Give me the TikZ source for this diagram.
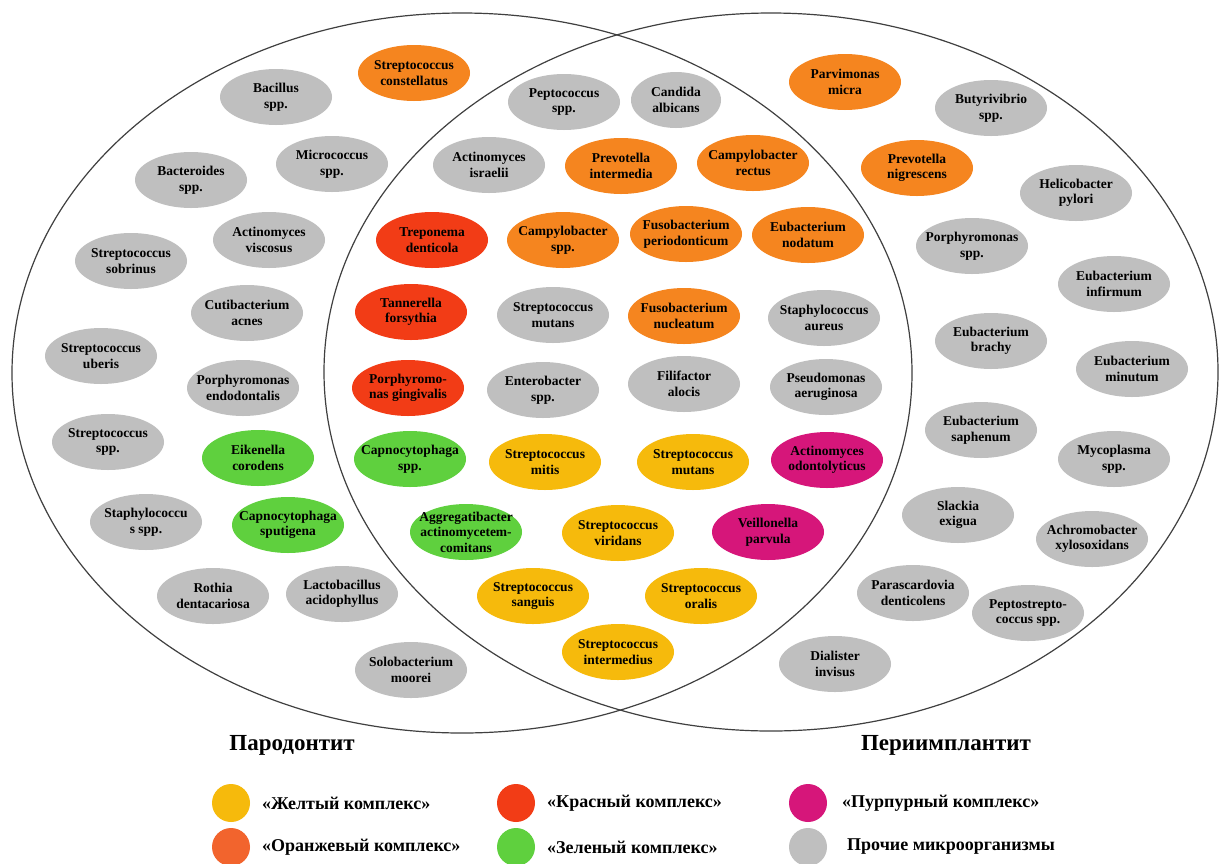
\documentclass[tikz,border=0pt]{standalone}
\usepackage{fontspec}
\setmainfont{Liberation Serif}
\usetikzlibrary{shapes.geometric}
\definecolor{cgray}{RGB}{191,191,191}
\definecolor{corange}{RGB}{245,133,31}
\definecolor{cred}{RGB}{242,60,22}
\definecolor{cgreen}{RGB}{95,208,62}
\definecolor{cyellow}{RGB}{246,186,12}
\definecolor{cpurple}{RGB}{214,22,122}
\definecolor{corleg}{RGB}{242,100,45}
\tikzset{
  bug/.style={ellipse, minimum width=112pt, minimum height=56pt, inner xsep=-10pt, inner ysep=-14pt,
    align=center, font=\bfseries\fontsize{13.5}{15.5}\selectfont, text=black},
  gr/.style={bug, fill=cgray},
  orn/.style={bug, fill=corange},
  rd/.style={bug, fill=cred},
  grn/.style={bug, fill=cgreen},
  yel/.style={bug, fill=cyellow},
  pur/.style={bug, fill=cpurple},
  venn/.style={draw=black!75, line width=1.2pt},
  dot/.style={circle, minimum size=38pt, inner sep=0pt},
  legtext/.style={anchor=west, inner sep=0pt, font=\bfseries\fontsize{18}{21}\selectfont},
  title/.style={inner sep=0pt, font=\bfseries\fontsize{23}{27}\selectfont}
}
\begin{document}
\begin{tikzpicture}[x=1pt,y=-1pt]
\useasboundingbox (0,0) rectangle (1220,863);
\fill[white] (0,0) rectangle (1220,863);
% Venn ellipses
\draw[venn] (462,373) ellipse [x radius=450pt, y radius=360pt];
\draw[venn] (771,372) ellipse [x radius=447pt, y radius=359pt];
% left only
\node[orn] (constellatus) at (414,73) {Streptococcus\\constellatus};
\node[gr] (bacillus) at (276,97) {Bacillus\\spp.};
\node[gr] (micrococcus) at (332,164) {Micrococcus\\spp.};
\node[gr] (bacteroides) at (191,180) {Bacteroides\\spp.};
\node[gr] (actvisc) at (269,240) {Actinomyces\\viscosus};
\node[gr] (sobrinus) at (131,261) {Streptococcus\\sobrinus};
\node[gr] (cuti) at (247,313) {Cutibacterium\\acnes};
\node[gr] (uberis) at (101,356) {Streptococcus\\uberis};
\node[gr] (porendo) at (243,388) {Porphyromonas\\endodontalis};
\node[gr] (strspp) at (108,442) {Streptococcus\\spp.};
\node[grn] (eikenella) at (258,458) {Eikenella\\corodens};
\node[gr] (staphspp) at (146,522) {Staphylococcu\\s spp.};
\node[grn] (capspu) at (288,525) {Capnocytophaga\\sputigena};
\node[gr] (rothia) at (213,596) {Rothia\\dentacariosa};
\node[gr] (lacto) at (342,594) {Lactobacillus\\acidophyllus};
\node[gr] (solo) at (411,670) {Solobacterium\\moorei};
% intersection
\node[gr] (pepto) at (564,102) {Peptococcus\\spp.};
\node[gr, minimum width=90pt] (candida) at (676,100) {Candida\\albicans};
\node[gr] (actisr) at (489,165) {Actinomyces\\israelii};
\node[orn] (prevint) at (621,166) {Prevotella\\intermedia};
\node[orn] (camprec) at (753,163) {Campylobacter\\rectus};
\node[rd] (trep) at (432,240) {Treponema\\denticola};
\node[orn] (campspp) at (563,240) {Campylobacter\\spp.};
\node[orn] (fusoper) at (686,234) {Fusobacterium\\periodonticum};
\node[orn] (eubnod) at (808,235) {Eubacterium\\nodatum};
\node[rd] (tann) at (411,312) {Tannerella\\forsythia};
\node[gr] (strmutg) at (553,315) {Streptococcus\\mutans};
\node[orn] (fusonuc) at (684,316) {Fusobacterium\\nucleatum};
\node[gr] (staphaur) at (824,318) {Staphylococcus\\aureus};
\node[rd] (porging) at (408,388) {Porphyromo-\\nas gingivalis};
\node[gr] (entero) at (543,390) {Enterobacter\\spp.};
\node[gr] (fili) at (684,384) {Filifactor\\alocis};
\node[gr] (pseudo) at (826,387) {Pseudomonas\\aeruginosa};
\node[grn] (capspp) at (410,459) {Capnocytophaga\\spp.};
\node[yel] (mitis) at (545,462) {Streptococcus\\mitis};
\node[yel] (mutansy) at (693,462) {Streptococcus\\mutans};
\node[pur] (actodo) at (827,460) {Actinomyces\\odontolyticus};
\node[grn] (aggr) at (466,532) {Aggregatibacter\\actinomycetem-\\comitans};
\node[yel] (viridans) at (618,533) {Streptococcus\\viridans};
\node[pur] (veill) at (768,532) {Veillonella\\parvula};
\node[yel] (sanguis) at (533,596) {Streptococcus\\sanguis};
\node[yel] (oralis) at (701,596) {Streptococcus\\oralis};
\node[yel] (intermedius) at (618,652) {Streptococcus\\intermedius};
% right only
\node[orn] (parvi) at (845,82) {Parvimonas\\micra};
\node[gr] (butyr) at (991,108) {Butyrivibrio\\spp.};
\node[orn] (prevnig) at (917,168) {Prevotella\\nigrescens};
\node[gr] (helico) at (1076,193) {Helicobacter\\pylori};
\node[gr] (porspp) at (972,246) {Porphyromonas\\spp.};
\node[gr] (eubinf) at (1114,284) {Eubacterium\\infirmum};
\node[gr] (eubbra) at (991,341) {Eubacterium\\brachy};
\node[gr] (eubmin) at (1132,369) {Eubacterium\\minutum};
\node[gr] (eubsap) at (981,430) {Eubacterium\\saphenum};
\node[gr] (myco) at (1114,459) {Mycoplasma\\spp.};
\node[gr] (slackia) at (958,515) {Slackia\\exigua};
\node[gr] (achro) at (1092,539) {Achromobacter\\xylosoxidans};
\node[gr] (parasc) at (913,593) {Parascardovia\\denticolens};
\node[gr] (pepstr) at (1028,613) {Peptostrepto-\\coccus spp.};
\node[gr] (dial) at (835,664) {Dialister\\invisus};
% titles
\node[title] (tpar) at (292,745) {Пародонтит};
\node[title] (tper) at (946,745) {Периимплантит};
% legend
\node[dot, fill=cyellow] (ly) at (231,803) {};
\node[legtext] (lyt) at (262,803) {«Желтый комплекс»};
\node[dot, fill=corleg] (lo) at (231,847) {};
\node[legtext] (lot) at (262,847) {«Оранжевый комплекс»};
\node[dot, fill=cred] (lr) at (516,803) {};
\node[legtext] (lrt) at (547,803) {«Красный комплекс»};
\node[dot, fill=cgreen] (lg) at (516,847) {};
\node[legtext] (lgt) at (547,847) {«Зеленый комплекс»};
\node[dot, fill=cpurple] (lp) at (808,803) {};
\node[legtext] (lpt) at (842,803) {«Пурпурный комплекс»};
\node[dot, fill=cgray] (lgr) at (808,847) {};
\node[legtext] (lgrt) at (847,847) {Прочие микроорганизмы};
\end{tikzpicture}
\end{document}
